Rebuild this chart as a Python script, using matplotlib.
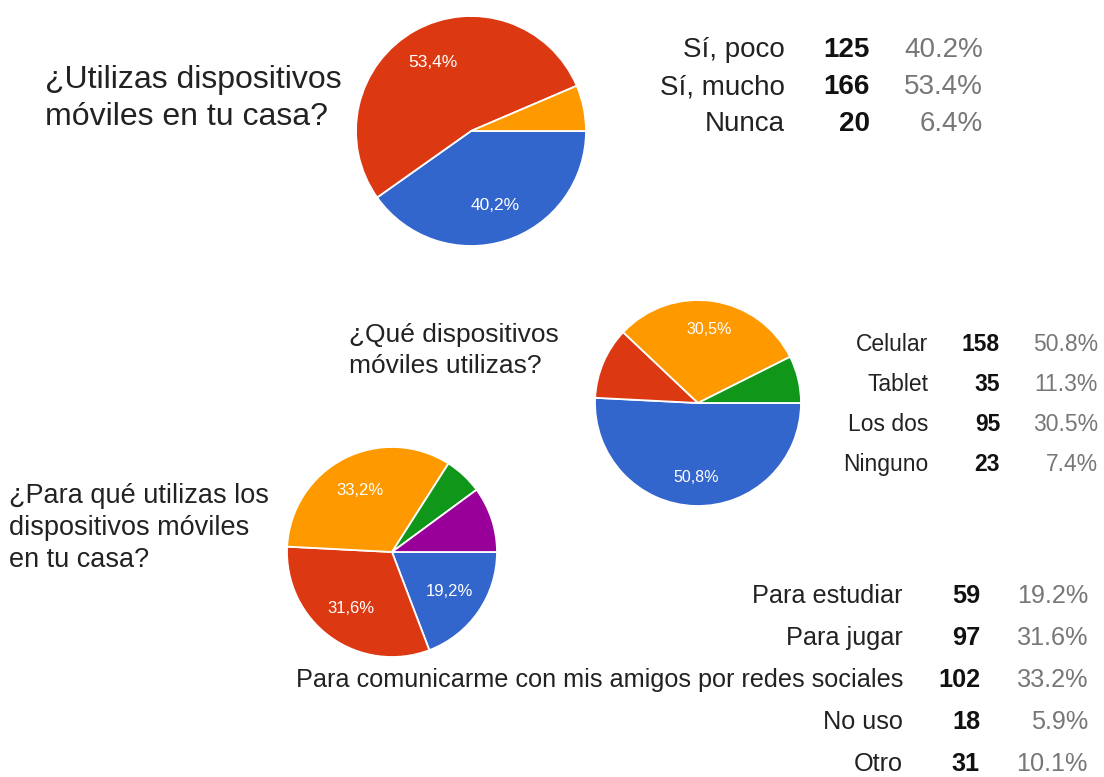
import matplotlib.pyplot as plt

plt.rcParams['font.family'] = ['Liberation Sans', 'DejaVu Sans']

# google chart colours
colors = ['#3366cc', '#dc3912', '#ff9900', '#109618', '#990099']

# question 1
q1_title = ['¿Utilizas dispositivos', 'móviles en tu casa?']
q1_labels = ['Sí, poco', 'Sí, mucho', 'Nunca']
q1_counts = [125, 166, 20]

# question 2
q2_title = ['¿Qué dispositivos', 'móviles utilizas?']
q2_labels = ['Celular', 'Tablet', 'Los dos', 'Ninguno']
q2_counts = [158, 35, 95, 23]

# question 3
q3_title = ['¿Para qué utilizas los', 'dispositivos móviles', 'en tu casa?']
q3_labels = ['Para estudiar', 'Para jugar',
             'Para comunicarme con mis amigos por redes sociales',
             'No uso', 'Otro']
q3_counts = [59, 97, 102, 18, 31]

W, H = 1104, 777


def Y(y):
    # pixel rows are counted from the top
    return H - y


def pct_label(pct):
    if pct < 15:
        return ''
    return f'{pct:.1f}%'.replace('.', ',')


def draw_pie(ax, counts, cx, cy, r, fs, pd):
    wedges, texts, autotexts = ax.pie(
        counts, colors=colors[:len(counts)], startangle=0, counterclock=False,
        center=(cx, Y(cy)), radius=r, autopct=pct_label, pctdistance=pd,
        wedgeprops=dict(edgecolor='white', linewidth=1.3),
        textprops=dict(color='white', fontsize=fs))
    return wedges


def draw_title(ax, lines, x, y0, dy, fs):
    for i, line in enumerate(lines):
        ax.text(x, Y(y0 + i * dy), line, fontsize=fs, color='#222222',
                ha='left', va='baseline')


def draw_table(ax, labels, counts, xl, xc, xp, y0, dy, fs):
    total = sum(counts)
    for i, (lab, n) in enumerate(zip(labels, counts)):
        y = Y(y0 + i * dy)
        ax.text(xl, y, lab, fontsize=fs, color='#222222', ha='right', va='baseline')
        ax.text(xc, y, str(n), fontsize=fs, color='#111111', fontweight='bold',
                ha='right', va='baseline')
        ax.text(xp, y, f'{n / total * 100:.1f}%', fontsize=fs, color='#777777',
                ha='right', va='baseline')


fig = plt.figure(figsize=(W / 100, H / 100), dpi=100)
ax = fig.add_axes([0, 0, 1, 1])

draw_pie(ax, q1_counts, 471, 131, 115, 12.5, 0.68)
draw_pie(ax, q2_counts, 698, 403, 103, 11.5, 0.72)
draw_pie(ax, q3_counts, 392, 552, 105, 12, 0.66)

draw_title(ax, q1_title, 45, 88, 37, 23)
draw_title(ax, q2_title, 349, 342, 31, 19)
draw_title(ax, q3_title, 9, 503, 32, 19.5)

draw_table(ax, q1_labels, q1_counts, 785, 870, 983, 57, 37, 20)
draw_table(ax, q2_labels, q2_counts, 928, 1000, 1098, 351, 40, 16.5)
draw_table(ax, q3_labels, q3_counts, 903, 980, 1088, 603, 42, 18.2)

ax.set_xlim(0, W)
ax.set_ylim(0, H)
ax.set_aspect('equal')
ax.axis('off')

fig.savefig('out.png', dpi=100, facecolor='white')
